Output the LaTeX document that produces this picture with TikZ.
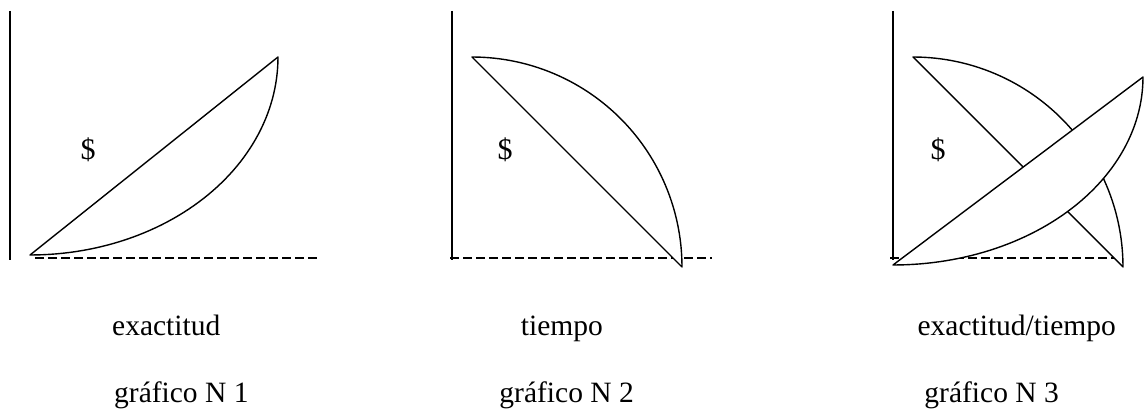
\documentclass[tikz,border=0pt]{standalone}
\usepackage{fontspec}
\setmainfont{Liberation Serif}
\tikzset{
  curve/.style={line width=1.4pt, line join=round},
  axisline/.style={line width=1.6pt},
  baseline/.style={line width=1.4pt, dash pattern=on 9pt off 4pt},
  lbl/.style={inner sep=0pt, font=\fontsize{29.5}{32}\selectfont},
  dollar/.style={anchor=center, inner sep=0pt, font=\fontsize{30}{32}\selectfont}
}
\begin{document}
\begin{tikzpicture}[x=1pt,y=-1pt]
\useasboundingbox (0,0) rectangle (1144,409);
% ---- graph 1
\draw[axisline] (10,11) -- (10,260);
\draw[baseline] (35,258) -- (320,258);
\draw[curve, fill=white] (30,255) -- (278,57)
  -- plot[domain=0:90, samples=60] ({30+248*cos(\x)},{57+198*sin(\x)}) -- cycle;
\node[dollar] (d1) at (88,150) {\$};
% ---- graph 2
\draw[axisline] (452,11) -- (452,260);
\draw[baseline] (450,258) -- (712,258);
\draw[curve, fill=white] (682,267) -- (472,57)
  -- plot[domain=90:0, samples=60] ({472+210*cos(\x)},{267-210*sin(\x)}) -- cycle;
\node[dollar] (d2) at (505,150) {\$};
% ---- graph 3
\draw[axisline] (893,11) -- (893,260);
\draw[baseline] (890,258) -- (1117,258);
\draw[curve, fill=white] (1123,267) -- (913,57)
  -- plot[domain=90:0, samples=60] ({913+210*cos(\x)},{267-210*sin(\x)}) -- cycle;
\draw[curve, fill=white] (893,265) -- (1143,77)
  -- plot[domain=0:90, samples=60] ({893+250*cos(\x)},{77+188*sin(\x)}) -- cycle;
\node[dollar] (d3) at (938,150) {\$};
% ---- labels
\node[lbl, anchor=base west] (t1) at (112,335) {exactitud};
\node[lbl, anchor=base east] (t2) at (603,335) {tiempo};
\node[lbl, anchor=base east] (t3) at (1116,335) {exactitud/tiempo};
\node[lbl, anchor=base west] (g1) at (114,402) {gráfico N 1};
\node[lbl, anchor=base east] (g2) at (634,402) {gráfico N 2};
\node[lbl, anchor=base east] (g3) at (1059,402) {gráfico N 3};
\end{tikzpicture}
\end{document}
